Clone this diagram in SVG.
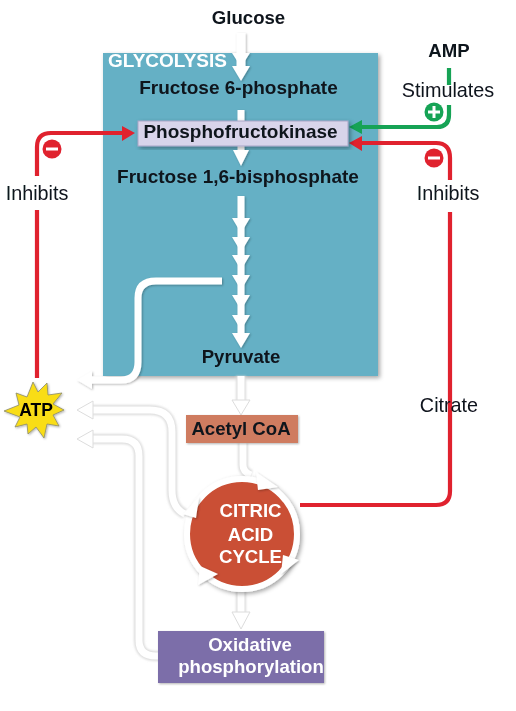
<svg xmlns="http://www.w3.org/2000/svg" width="516" height="711" viewBox="0 0 516 711">
<defs>
<filter id="sh" x="-10%" y="-10%" width="125%" height="125%"><feDropShadow dx="2" dy="2" stdDeviation="2" flood-color="#000" flood-opacity="0.35"/></filter>
<filter id="ls" x="-30%" y="-30%" width="160%" height="160%"><feDropShadow dx="1" dy="1" stdDeviation="1.2" flood-color="#000" flood-opacity="0.3"/></filter>
<filter id="soft" filterUnits="userSpaceOnUse" x="0" y="0" width="516" height="711"><feGaussianBlur stdDeviation="0.45"/></filter>
<filter id="halo" filterUnits="userSpaceOnUse" x="0" y="0" width="516" height="711"><feGaussianBlur stdDeviation="1"/></filter>
</defs>
<style>
text{font-family:"Liberation Sans",Arial,sans-serif;font-weight:bold;text-anchor:middle;font-size:18.6px;fill:#10131c}
.n{font-weight:normal;font-size:19.8px;-webkit-text-stroke:0.55px #10131c}
.w{fill:#fff}
.wl{fill:none;stroke:#fff;stroke-width:7}
.wo{fill:none;stroke:#dcdcdc;stroke-width:10}
.head{fill:#fff;stroke:#dcdcdc;stroke-width:1}
.r{fill:none;stroke:#e0202f;stroke-width:4.2}
.g{fill:none;stroke:#12a354;stroke-width:4.2}
</style>
<g filter="url(#soft)">
<rect id="glycolysis-box" x="103" y="53" width="275" height="323" fill="#65b0c5" filter="url(#sh)"/>
<g id="connectors">
<g filter="url(#ls)">
<path class="wl" d="M241 33V68" style="stroke-width:9"/>
<path class="w" d="M232 53H250L241 67Z M232 66H250L241 81Z"/>
<path class="wl" d="M241 110V124"/>
<path class="wl" d="M241 146V152"/>
<path class="w" d="M233 150H249L241 166Z"/>
<path class="wl" d="M241 196V336"/>
<path class="w" d="M232 218H250L241 233Z M232 237H250L241 252Z M232 255H250L241 270Z M232 275H250L241 290Z M232 295H250L241 310Z M232 315H250L241 330Z M232 333H250L241 348Z"/>
<path class="wl" d="M222 281H156Q138 281 138 298V362Q138 380 121 380H90"/>
<path class="w" d="M77 380L92 371V389Z"/>
</g>
<g>
<g filter="url(#halo)">
<path class="wo" d="M241 376V402"/>
<path class="wo" d="M243 443V465Q243 472 251 475"/>
<path class="wo" d="M92 410H150Q172 410 172 432V490Q172 508 185 514"/>
<path class="wo" d="M92 439H122Q139 439 139 456V640Q139 656 156 656H160"/>
<path class="wo" d="M241 590V615"/>
</g>
<path class="wl" d="M241 376V402"/>
<path class="head" d="M232 400H250L241 415Z"/>
<path class="wl" d="M243 443V465Q243 472 251 475"/>
<path class="wl" d="M92 410H150Q172 410 172 432V490Q172 508 185 514"/>
<path class="head" d="M77 410L93 401V419Z"/>
<path class="wl" d="M92 439H122Q139 439 139 456V640Q139 656 156 656H160"/>
<path class="head" d="M77 439L93 430V448Z"/>
<path class="wl" d="M241 590V615"/>
<path class="head" d="M232 612H250L241 629Z"/>
</g>
<path class="r" d="M37 378V210M37 176V147Q37 133 51 133H124"/>
<path d="M135 133L122 126V141Z" fill="#e0202f"/>
<path class="g" d="M449 68V85M449 105V115Q449 127 437 127H360"/>
<path d="M349 127L362 120V134Z" fill="#12a354"/>
<path class="r" d="M300 505H436Q450 505 450 491V212M450 180V158Q450 143 436 143H360"/>
<path d="M349 143L362 136V151Z" fill="#e0202f"/>
</g>
<g id="glucose"><text x="248.5" y="24">Glucose</text></g>
<g id="glycolysis-label"><text x="167.5" y="67" class="w" style="font-size:19px">GLYCOLYSIS</text></g>
<g id="f6p"><text x="238.5" y="94" style="font-size:19px">Fructose 6-phosphate</text></g>
<g id="pfk"><rect x="138" y="121" width="210" height="25" fill="#d8d4ea" stroke="#a9a5c6" filter="url(#sh)"/><text x="240.5" y="138" style="font-size:19px">Phosphofructokinase</text></g>
<g id="f16bp"><text x="238" y="183" style="font-size:19px">Fructose 1,6-bisphosphate</text></g>
<g id="pyruvate"><text x="241" y="363">Pyruvate</text></g>
<g id="acetyl"><rect x="186" y="415" width="112" height="28" fill="#cf7b60" filter="url(#ls)"/><text x="241" y="435">Acetyl CoA</text></g>
<g id="cycle">
<circle cx="242" cy="534" r="55" fill="#ca4f34" stroke="#fff" stroke-width="6" filter="url(#sh)"/>
<g filter="url(#ls)">
<path d="M256 472L278 487L258 490Z" fill="#fff"/>
<path d="M299 560L281 574L283 555Z" fill="#fff"/>
<path d="M198 585L200 566L218 574Z" fill="#fff"/>
<path d="M199 497L183 514L196 518Z" fill="#fff"/>
</g>
<text x="250.5" y="517" class="w">CITRIC</text><text x="250.5" y="541" class="w">ACID</text><text x="250.5" y="563" class="w">CYCLE</text>
</g>
<g id="oxphos"><rect x="158" y="631" width="166" height="52" fill="#7b6ea9" filter="url(#ls)"/><text x="250" y="651" class="w">Oxidative</text><text x="251" y="673" class="w">phosphorylation</text></g>
<g id="atp"><path d="M33 382L38 392L47 383L48 395L62 393L53 404L64 410L53 415L59 426L47 424L44 438L36 427L28 434L27 424L15 427L20 417L4 411L19 405L16 393L27 397Z" fill="#f9dd17" stroke="#8a8a6a" stroke-width="0.8" filter="url(#ls)"/><text x="36" y="416" style="font-size:17.5px;fill:#000">ATP</text></g>
<g id="inhibits-left"><text x="37" y="200" class="n">Inhibits</text></g>
<g id="minus-left"><circle cx="52" cy="149" r="9.5" fill="#e0202f"/><rect x="46" y="147.5" width="12" height="3" fill="#fff"/></g>
<g id="amp"><text x="449" y="57">AMP</text></g>
<g id="stimulates"><text x="448" y="97" class="n">Stimulates</text></g>
<g id="plus"><circle cx="434" cy="112" r="9.5" fill="#12a354"/><path d="M428 112H440M434 106V118" stroke="#fff" stroke-width="3"/></g>
<g id="minus-right"><circle cx="434" cy="158" r="9.5" fill="#e0202f"/><rect x="428" y="156.5" width="12" height="3" fill="#fff"/></g>
<g id="inhibits-right"><text x="448" y="200" class="n">Inhibits</text></g>
<g id="citrate"><text x="449" y="412" class="n">Citrate</text></g>
</g>
</svg>
